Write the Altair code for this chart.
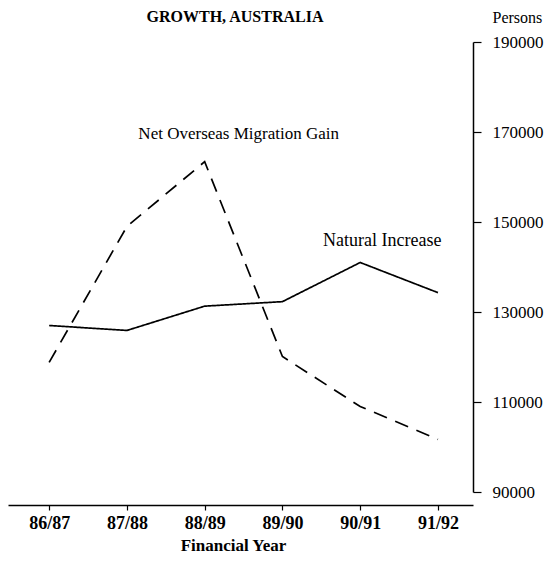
import altair as alt
import pandas as pd

years = ["86/87", "87/88", "88/89", "89/90", "90/91", "91/92"]
natural_increase = [127000, 125900, 131300, 132300, 141000, 134300]
net_migration = [118800, 149000, 163400, 120100, 109000, 101700]
y_ticks = [90000, 110000, 130000, 150000, 170000, 190000]

series_names = ["Natural Increase", "Net Overseas Migration Gain"]

rows = []
for y, v in zip(years, natural_increase):
    rows.append({"year": y, "value": v, "series": series_names[0]})
for y, v in zip(years, net_migration):
    rows.append({"year": y, "value": v, "series": series_names[1]})
df = pd.DataFrame(rows)

label_years = ["88/89", "90/91"]
label_values = [169550, 145800]
label_texts = ["Net Overseas Migration Gain", "Natural Increase"]
label_dx = [34, 22]
label_sizes = [17, 18]

FONT = "Liberation Serif"

x_enc = alt.X(
    "year:N",
    sort=years,
    scale=alt.Scale(type="point", domain=years, padding=0.49, align=0.54),
    axis=alt.Axis(
        title="Financial Year",
        orient="bottom",
        offset=13,
        domainColor="black",
        domainWidth=1.5,
        tickColor="black",
        tickSize=5,
        tickWidth=1.2,
        labelPadding=4,
        labelFont=FONT,
        labelFontSize=18,
        labelFontWeight="bold",
        labelColor="black",
        labelAngle=0,
        titleFont=FONT,
        titleFontSize=17,
        titleFontWeight="bold",
        titleColor="black",
        titleX=225,
        titleY=40,
        titleBaseline="middle",
        grid=False,
    ),
)

y_enc = alt.Y(
    "value:Q",
    scale=alt.Scale(domain=[90000, 190000], nice=False, zero=False),
    axis=alt.Axis(
        title="Persons",
        orient="right",
        values=y_ticks,
        format="d",
        domainColor="black",
        domainWidth=1.5,
        tickColor="black",
        tickSize=8,
        tickWidth=1.2,
        labelPadding=11,
        labelFont=FONT,
        labelFontSize=17,
        labelColor="black",
        labelAlign="left",
        labelBaseline="middle",
        titleFont=FONT,
        titleFontSize=16,
        titleColor="black",
        titleFontWeight="normal",
        titleAngle=0,
        titleAlign="left",
        titleBaseline="middle",
        titleX=19,
        titleY=-25,
        grid=False,
    ),
)

lines = alt.Chart(df).mark_line(color="black", strokeWidth=1.7).encode(
    x=x_enc,
    y=y_enc,
    strokeDash=alt.StrokeDash(
        "series:N",
        scale=alt.Scale(domain=series_names, range=[[1, 0], [14, 9]]),
        legend=None,
    ),
    detail="series:N",
)

label_layers = []
for yr, val, txt, dx, fs in zip(label_years, label_values, label_texts, label_dx, label_sizes):
    sub = pd.DataFrame({"year": [yr], "value": [val], "text": [txt]})
    label_layers.append(
        alt.Chart(sub).mark_text(
            font=FONT, fontSize=fs, color="black", align="center",
            baseline="middle", dx=dx,
        ).encode(
            x=alt.X("year:N", sort=years),
            y=alt.Y("value:Q"),
            text="text:N",
        )
    )

title = alt.Chart(pd.DataFrame({"t": ["GROWTH, AUSTRALIA"]})).mark_text(
    font=FONT, fontSize=16, fontWeight="bold", color="black",
    align="center", baseline="middle",
).encode(
    x=alt.value(227),
    y=alt.value(-25),
    text="t:N",
)

chart = alt.layer(lines, *label_layers, title).properties(
    width=465,
    height=450,
    autosize=alt.AutoSizeParams(type="none"),
    padding={"top": 34, "left": 0, "right": 71, "bottom": 70},
    background="white",
).configure_view(stroke=None)

chart.save("out.html", embed_options={"renderer": "svg", "actions": False})
